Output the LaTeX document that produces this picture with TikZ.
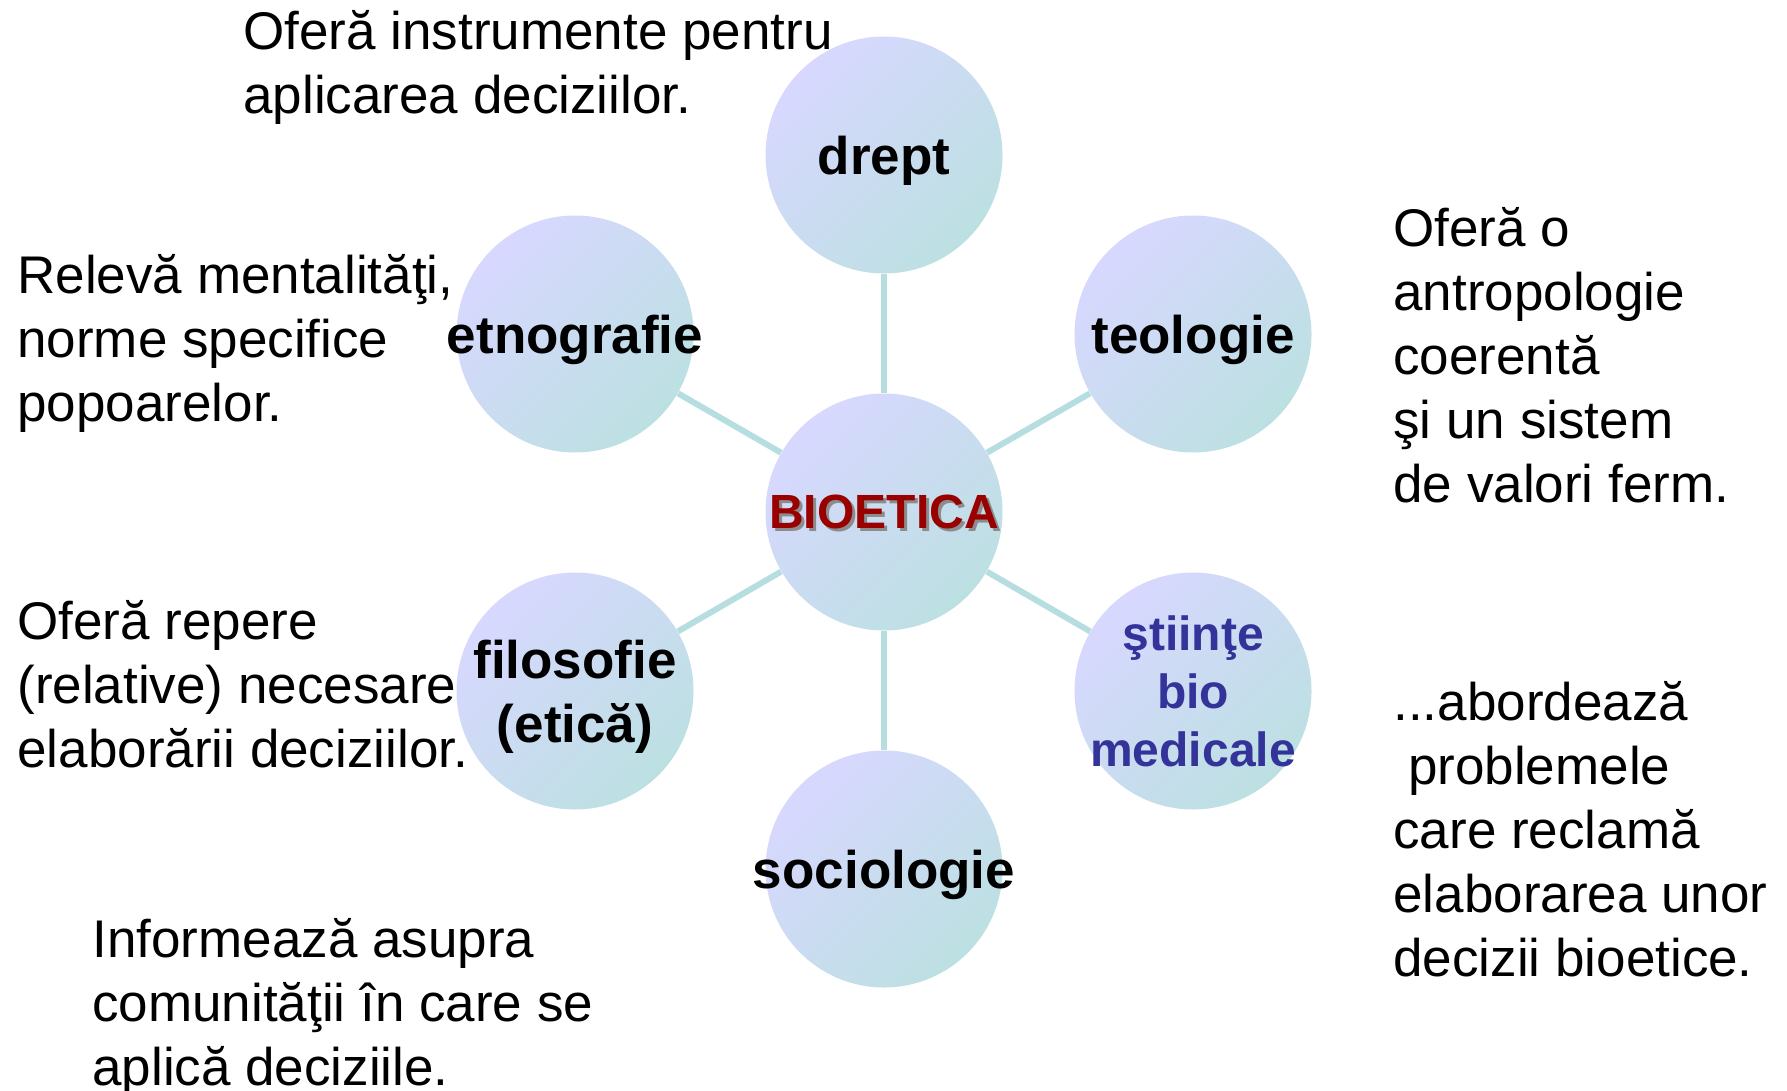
\documentclass[tikz,border=0pt]{standalone}
\usepackage{fontspec}
\setmainfont{Liberation Sans}
\usetikzlibrary{backgrounds}

\definecolor{lavender}{RGB}{216,216,255}
\definecolor{paleteal}{RGB}{188,224,226}
\definecolor{spokeline}{RGB}{182,222,224}
\definecolor{biored}{RGB}{153,0,0}
\definecolor{fieldblue}{RGB}{51,51,153}

\tikzset{
  field/.style={circle, minimum size=118.5pt, inner sep=-12pt, top color=lavender,
    bottom color=paleteal, shading angle=45, align=center, text depth=0pt,
    font=\fontsize{26.5}{32}\selectfont\bfseries},
  spoke/.style={draw=spokeline, line width=3pt},
  note/.style={anchor=base west, align=left, inner sep=0pt,
    font=\fontsize{26.5}{32}\selectfont}
}

\begin{document}
\begin{tikzpicture}[x=0.5pt, y=-0.5pt]
  \useasboundingbox (0,0) rectangle (1787,1091);

  % centre and the six fields
  \node[field] (bio) at (884,512) {};
  \node[font=\fontsize{24}{29}\selectfont\bfseries, text=black!45] (bioshadow) at (887,515) {BIOETICA};
  \node[font=\fontsize{24}{29}\selectfont\bfseries, text=biored] (biotext) at (884,512) {BIOETICA};

  \node[field] (drept) at (884,155) {drept};
  \node[field] (teologie) at (1193,334) {teologie};
  \node[field] (etno) at (575,334) {etnografie};
  \node[field] (filo) at (575,691) {filosofie\\(etică)};
  \node[field, text=fieldblue, font=\fontsize{24}{29}\selectfont\bfseries] (stiinte) at (1193,691) {ştiinţe\\bio\\medicale};
  \node[field] (socio) at (884,869) {sociologie};

  \begin{scope}[on background layer]
    \draw[spoke] (bio) -- (drept);
    \draw[spoke] (bio) -- (teologie);
    \draw[spoke] (bio) -- (etno);
    \draw[spoke] (bio) -- (filo);
    \draw[spoke] (bio) -- (stiinte);
    \draw[spoke] (bio) -- (socio);
  \end{scope}

  % what each field brings (placed at the baseline of the last line)
  \node[note] (instr) at (243,114) {Oferă instrumente pentru\\aplicarea deciziilor.};
  \node[note] (mental) at (17,421) {Relevă mentalităţi,\\norme specifice\\popoarelor.};
  \node[note] (antrop) at (1393,502) {Oferă o\\antropologie\\coerentă\\şi un sistem\\de valori ferm.};
  \node[note] (repere) at (17,767) {Oferă repere\\(relative) necesare\\elaborării deciziilor.};
  \node[note] (abord) at (1393,976) {...abordează\\\ problemele\\care reclamă\\elaborarea unor\\decizii bioetice.};
  \node[note] (inform) at (92,1085) {Informează asupra\\comunităţii în care se\\aplică deciziile.};
\end{tikzpicture}
\end{document}
